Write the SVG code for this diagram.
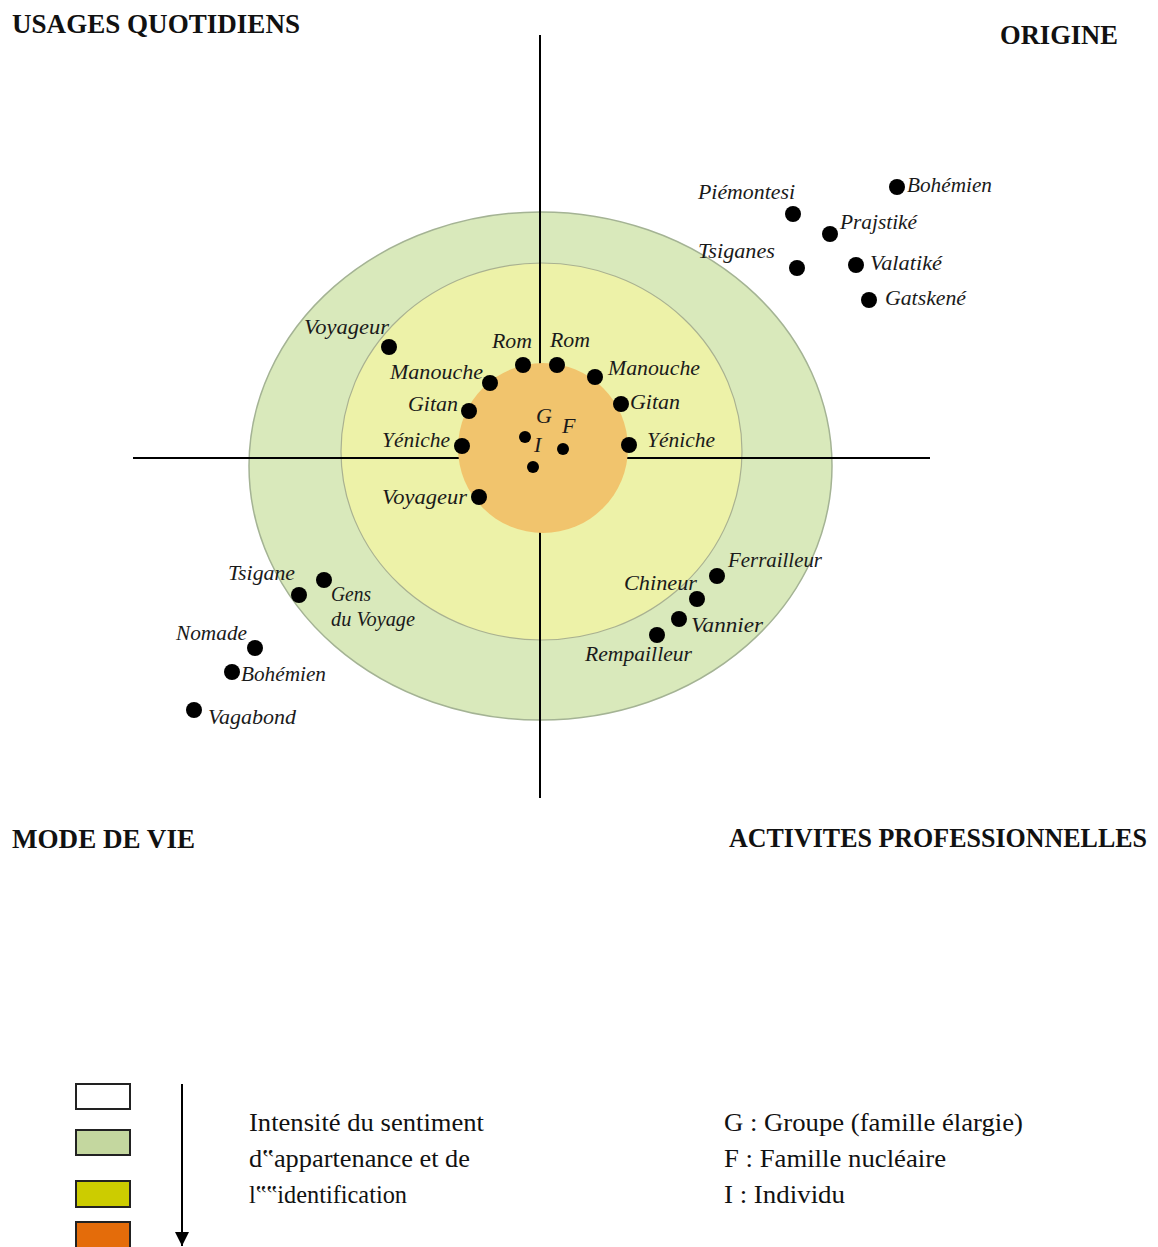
<svg xmlns="http://www.w3.org/2000/svg" width="1158" height="1247" viewBox="0 0 1158 1247">
<defs>
<style>
.t{font-family:"Liberation Serif","Times New Roman",serif;font-style:italic;font-size:22px;fill:#1a1a1a}
.h{font-family:"Liberation Serif","Times New Roman",serif;font-weight:bold;font-size:27px;fill:#111}
.l{font-family:"Liberation Serif","Times New Roman",serif;font-size:26px;fill:#111}
.d{fill:#000}
.ax{stroke:#000;stroke-width:2;fill:none}
.sw{stroke:#222;stroke-width:2}
</style>
<marker id="ah" viewBox="0 0 12 12" refX="12" refY="6" markerWidth="14" markerHeight="14" markerUnits="userSpaceOnUse" orient="auto">
<path d="M0,0 L12,6 L0,12 Z" fill="#000"/>
</marker>
</defs>
<rect width="1158" height="1247" fill="#fff"/>

<g id="zones">
<ellipse cx="540.5" cy="466" rx="291.5" ry="254" fill="#d9e9bb" stroke="#a4b394" stroke-width="1.5"/>
<ellipse cx="541.5" cy="451.5" rx="200.5" ry="188.5" fill="#edf2a8" stroke="#a9b191" stroke-width="1.2"/>
</g>

<g id="connectors">
<line class="ax" x1="540" y1="35" x2="540" y2="798"/>
<line class="ax" x1="133" y1="458" x2="930" y2="458"/>
</g>

<g id="core">
<circle cx="543" cy="448" r="85" fill="#f1c46d"/>
</g>

<g id="headings">
<text class="h" x="12" y="33" textLength="288" lengthAdjust="spacingAndGlyphs">USAGES QUOTIDIENS</text>
<text class="h" x="1000" y="44" textLength="118" lengthAdjust="spacingAndGlyphs">ORIGINE</text>
<text class="h" x="12" y="848" textLength="183" lengthAdjust="spacingAndGlyphs">MODE DE VIE</text>
<text class="h" x="729" y="847" font-size="24" textLength="418" lengthAdjust="spacingAndGlyphs">ACTIVITES PROFESSIONNELLES</text>
</g>

<g id="node-bohemien-origine"><circle class="d" cx="897" cy="187" r="8"/><text class="t" x="907" y="192" textLength="85" lengthAdjust="spacingAndGlyphs">Bohémien</text></g>
<g id="node-piemontesi"><circle class="d" cx="793" cy="214" r="8"/><text class="t" x="698" y="199" textLength="97" lengthAdjust="spacingAndGlyphs">Piémontesi</text></g>
<g id="node-prajstike"><circle class="d" cx="830" cy="234" r="8"/><text class="t" x="840" y="229" textLength="77" lengthAdjust="spacingAndGlyphs">Prajstiké</text></g>
<g id="node-tsiganes"><circle class="d" cx="797" cy="268" r="8"/><text class="t" x="698" y="258" textLength="77" lengthAdjust="spacingAndGlyphs">Tsiganes</text></g>
<g id="node-valatike"><circle class="d" cx="856" cy="265" r="8"/><text class="t" x="870" y="270" textLength="72" lengthAdjust="spacingAndGlyphs">Valatiké</text></g>
<g id="node-gatskene"><circle class="d" cx="869" cy="300" r="8"/><text class="t" x="885" y="305" textLength="81" lengthAdjust="spacingAndGlyphs">Gatskené</text></g>

<g id="node-voyageur-usages"><circle class="d" cx="389" cy="347" r="8"/><text class="t" x="304" y="334" textLength="85" lengthAdjust="spacingAndGlyphs">Voyageur</text></g>
<g id="node-rom-left"><circle class="d" cx="523" cy="365" r="8"/><text class="t" x="492" y="348" textLength="40" lengthAdjust="spacingAndGlyphs">Rom</text></g>
<g id="node-rom-right"><circle class="d" cx="557" cy="365" r="8"/><text class="t" x="550" y="347" textLength="40" lengthAdjust="spacingAndGlyphs">Rom</text></g>
<g id="node-manouche-left"><circle class="d" cx="490" cy="383" r="8"/><text class="t" x="390" y="379" textLength="93" lengthAdjust="spacingAndGlyphs">Manouche</text></g>
<g id="node-manouche-right"><circle class="d" cx="595" cy="377" r="8"/><text class="t" x="608" y="375" textLength="92" lengthAdjust="spacingAndGlyphs">Manouche</text></g>
<g id="node-gitan-left"><circle class="d" cx="469" cy="411" r="8"/><text class="t" x="408" y="411" textLength="50" lengthAdjust="spacingAndGlyphs">Gitan</text></g>
<g id="node-gitan-right"><circle class="d" cx="621" cy="404" r="8"/><text class="t" x="630" y="409" textLength="50" lengthAdjust="spacingAndGlyphs">Gitan</text></g>
<g id="node-yeniche-left"><circle class="d" cx="462" cy="446" r="8"/><text class="t" x="382" y="447" textLength="68" lengthAdjust="spacingAndGlyphs">Yéniche</text></g>
<g id="node-yeniche-right"><circle class="d" cx="629" cy="445" r="8"/><text class="t" x="647" y="447" textLength="68" lengthAdjust="spacingAndGlyphs">Yéniche</text></g>
<g id="node-voyageur-mode"><circle class="d" cx="479" cy="497" r="8"/><text class="t" x="382" y="504" textLength="85" lengthAdjust="spacingAndGlyphs">Voyageur</text></g>

<g id="node-g"><circle class="d" cx="525" cy="437" r="6"/><text class="t" x="536" y="423" font-style="normal">G</text></g>
<g id="node-f"><circle class="d" cx="563" cy="449" r="6"/><text class="t" x="562" y="433" font-style="normal">F</text></g>
<g id="node-i"><circle class="d" cx="533" cy="467" r="6"/><text class="t" x="534" y="452">I</text></g>

<g id="node-tsigane"><circle class="d" cx="299" cy="595" r="8"/><text class="t" x="228" y="580" textLength="67" lengthAdjust="spacingAndGlyphs">Tsigane</text></g>
<g id="node-gens-du-voyage"><circle class="d" cx="324" cy="580" r="8"/><text class="t" x="331" y="601" textLength="40" lengthAdjust="spacingAndGlyphs">Gens</text><text class="t" x="331" y="626" textLength="84" lengthAdjust="spacingAndGlyphs">du Voyage</text></g>
<g id="node-nomade"><circle class="d" cx="255" cy="648" r="8"/><text class="t" x="176" y="640" textLength="71" lengthAdjust="spacingAndGlyphs">Nomade</text></g>
<g id="node-bohemien-mode"><circle class="d" cx="232" cy="672" r="8"/><text class="t" x="241" y="681" textLength="85" lengthAdjust="spacingAndGlyphs">Bohémien</text></g>
<g id="node-vagabond"><circle class="d" cx="194" cy="710" r="8"/><text class="t" x="208" y="724" textLength="88" lengthAdjust="spacingAndGlyphs">Vagabond</text></g>

<g id="node-ferrailleur"><circle class="d" cx="717" cy="576" r="8"/><text class="t" x="728" y="567" textLength="94" lengthAdjust="spacingAndGlyphs">Ferrailleur</text></g>
<g id="node-chineur"><circle class="d" cx="697" cy="599" r="8"/><text class="t" x="624" y="590" textLength="73" lengthAdjust="spacingAndGlyphs">Chineur</text></g>
<g id="node-vannier"><circle class="d" cx="679" cy="619" r="8"/><text class="t" x="691" y="632" textLength="72" lengthAdjust="spacingAndGlyphs">Vannier</text></g>
<g id="node-rempailleur"><circle class="d" cx="657" cy="635" r="8"/><text class="t" x="585" y="661" textLength="107" lengthAdjust="spacingAndGlyphs">Rempailleur</text></g>

<g id="legend">
<rect class="sw" x="76" y="1084" width="54" height="25" fill="#fff"/>
<rect class="sw" x="76" y="1130" width="54" height="25" fill="#c4d79f"/>
<rect class="sw" x="76" y="1181" width="54" height="26" fill="#cccc00"/>
<rect class="sw" x="76" y="1222" width="54" height="26" fill="#e46c0a"/>
<line x1="182" y1="1084" x2="182" y2="1246" stroke="#000" stroke-width="2" marker-end="url(#ah)"/>
<text class="l" x="249" y="1131" textLength="235" lengthAdjust="spacingAndGlyphs">Intensité du sentiment</text>
<text class="l" x="249" y="1167" textLength="221" lengthAdjust="spacingAndGlyphs">d‟appartenance et de</text>
<text class="l" x="249" y="1203" textLength="158" lengthAdjust="spacingAndGlyphs">l‟‟identification</text>
<text class="l" x="724" y="1131" textLength="299" lengthAdjust="spacingAndGlyphs">G : Groupe (famille élargie)</text>
<text class="l" x="724" y="1167" textLength="222" lengthAdjust="spacingAndGlyphs">F : Famille nucléaire</text>
<text class="l" x="724" y="1203" textLength="121" lengthAdjust="spacingAndGlyphs">I : Individu</text>
</g>
</svg>
